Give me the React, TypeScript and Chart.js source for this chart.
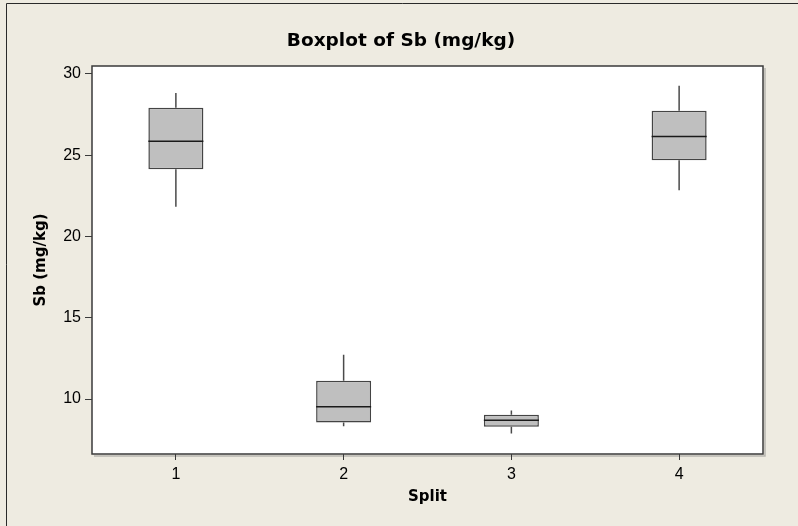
import React, { useEffect, useRef } from "react";
import { Chart, registerables } from "chart.js";

Chart.register(...registerables);

const categories = ["1", "2", "3", "4"];
const whiskerLow = [21.83, 8.33, 7.88, 22.84];
const q1 = [24.14, 8.56, 8.29, 24.69];
const median = [25.86, 9.53, 8.7, 26.15];
const q3 = [27.92, 11.13, 9.03, 27.73];
const whiskerHigh = [28.83, 12.72, 9.3, 29.28];
const yTicks = [10, 15, 20, 25, 30];

const chartTitle = "Boxplot of Sb (mg/kg)";
const xTitle = "Split";
const yTitle = "Sb (mg/kg)";

const BG = "#eeebe1";
const BOLD_FONT = "'DejaVu Sans', Verdana, sans-serif";
const TICK_FONT = "'Liberation Sans', Arial, sans-serif";

const framePlugin = {
  id: "frame",
  beforeDraw(chart: any) {
    const { ctx, width, height, chartArea } = chart;
    ctx.save();
    ctx.fillStyle = BG;
    ctx.fillRect(0, 0, width, height);
    ctx.strokeStyle = "#2a2a2a";
    ctx.lineWidth = 1;
    ctx.beginPath();
    ctx.moveTo(6.5, height);
    ctx.lineTo(6.5, 3.5);
    ctx.lineTo(width, 3.5);
    ctx.stroke();
    const { left, top, right, bottom } = chartArea;
    // shadow
    ctx.strokeStyle = "#b8b6b0";
    ctx.lineWidth = 1.5;
    ctx.beginPath();
    ctx.moveTo(right + 2, top + 2);
    ctx.lineTo(right + 2, bottom + 2);
    ctx.lineTo(left + 2, bottom + 2);
    ctx.stroke();
    ctx.fillStyle = "#ffffff";
    ctx.fillRect(left, top, right - left, bottom - top);
    ctx.strokeStyle = "#3a3a3a";
    ctx.lineWidth = 1.5;
    ctx.strokeRect(left, top, right - left, bottom - top);
    // title
    ctx.fillStyle = "#000";
    ctx.font = `bold 18.5px ${BOLD_FONT}`;
    ctx.textAlign = "center";
    ctx.textBaseline = "middle";
    ctx.fillText(chartTitle, 401, 41);
    ctx.restore();
  },
};

const boxPlugin = {
  id: "boxparts",
  afterDatasetsDraw(chart: any) {
    const { ctx } = chart;
    const yScale = chart.scales.y;
    const meta = chart.getDatasetMeta(0);
    ctx.save();
    meta.data.forEach((bar: any, i: number) => {
      const x = bar.x;
      const half = bar.width / 2;
      const yHi = yScale.getPixelForValue(whiskerHigh[i]);
      const yQ3 = yScale.getPixelForValue(q3[i]);
      const yQ1 = yScale.getPixelForValue(q1[i]);
      const yLo = yScale.getPixelForValue(whiskerLow[i]);
      const yMed = yScale.getPixelForValue(median[i]);
      ctx.strokeStyle = "#4a4a4a";
      ctx.lineWidth = 1.5;
      ctx.beginPath();
      ctx.moveTo(x, yHi);
      ctx.lineTo(x, yQ3);
      ctx.moveTo(x, yQ1);
      ctx.lineTo(x, yLo);
      ctx.stroke();
      ctx.strokeStyle = "#1a1a1a";
      ctx.lineWidth = 1.5;
      ctx.beginPath();
      ctx.moveTo(x - half, yMed);
      ctx.lineTo(x + half, yMed);
      ctx.stroke();
    });
    ctx.restore();
  },
};

export default function App() {
  const ref = useRef<HTMLCanvasElement>(null);
  useEffect(() => {
    if (!ref.current) return;
    const chart = new Chart(ref.current, {
      type: "bar",
      data: {
        labels: categories,
        datasets: [
          {
            data: categories.map((_, i) => [q1[i], q3[i]]) as any,
            backgroundColor: "#bfbfbf",
            borderColor: "#444444",
            borderWidth: 1.5,
            borderSkipped: false,
            barPercentage: 0.328,
            categoryPercentage: 1,
          },
        ],
      },
      options: {
        responsive: false,
        animation: false,
        devicePixelRatio: 1,
        layout: { padding: { top: 66, right: 35, left: 0, bottom: 0 } },
        plugins: {
          legend: { display: false },
          title: { display: false },
          tooltip: { enabled: false },
        },
        scales: {
          x: {
            offset: true,
            afterFit: (s: any) => {
              s.height = 72;
            },
            grid: {
              drawOnChartArea: false,
              drawTicks: true,
              tickLength: 6,
              color: "#3a3a3a",
              offset: false,
            },
            border: { display: false },
            ticks: {
              color: "#000",
              padding: 5,
              font: { family: TICK_FONT, size: 16 },
            },
            title: {
              display: true,
              text: xTitle,
              color: "#000",
              font: { family: BOLD_FONT, size: 15, weight: "bold" },
              padding: { top: 0, bottom: 20 },
            },
          },
          y: {
            min: 6.62,
            max: 30.49,
            afterFit: (s: any) => {
              s.width = 92;
            },
            afterBuildTicks: (s: any) => {
              s.ticks = yTicks.map((v) => ({ value: v }));
            },
            grid: {
              drawOnChartArea: false,
              drawTicks: true,
              tickLength: 7,
              color: "#3a3a3a",
            },
            border: { display: false },
            ticks: {
              color: "#000",
              padding: 4,
              font: { family: TICK_FONT, size: 16 },
            },
            title: {
              display: true,
              text: yTitle,
              color: "#000",
              font: { family: BOLD_FONT, size: 15, weight: "bold" },
              padding: { top: 32, bottom: 0 },
            },
          },
        },
      },
      plugins: [framePlugin, boxPlugin],
    });
    return () => chart.destroy();
  }, []);
  return (
    <div style={{ position: "fixed", left: 0, top: 0, width: 798, height: 526 }}>
      <canvas ref={ref} width={798} height={526} style={{ width: 798, height: 526, display: "block" }} />
    </div>
  );
}
